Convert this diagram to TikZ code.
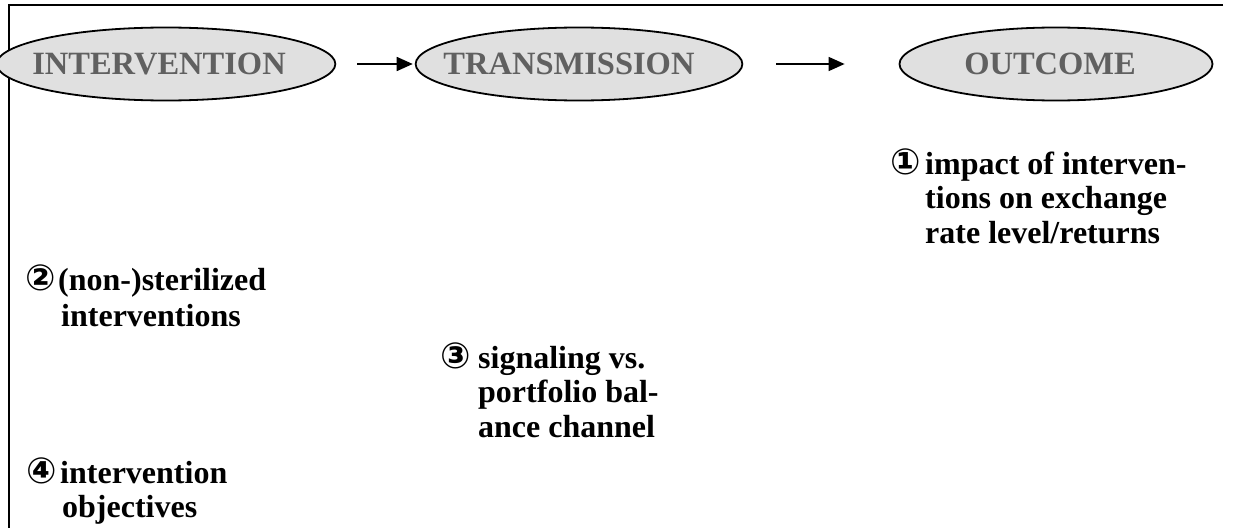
\documentclass[tikz,border=0pt]{standalone}
\usepackage{fontspec}
\setmainfont{Liberation Serif}
\newfontfamily\circfont{DejaVu Sans}
\usetikzlibrary{shapes.geometric,arrows.meta}
\definecolor{ellfill}{HTML}{E0E0E0}
\definecolor{elltext}{HTML}{606060}
\tikzset{
  phase/.style={ellipse, draw=black, line width=1.8pt, fill=ellfill, inner sep=0pt,
    minimum height=73pt, font=\fontsize{32.5}{36}\selectfont\bfseries, text=elltext},
  flow/.style={line width=1.6pt, -{Triangle[length=16pt,width=14pt]}},
  item/.style={anchor=base west, inner sep=0pt, font=\fontsize{32}{34.5}\selectfont\bfseries},
}
\newcommand{\cnum}[2]{\makebox[#1][l]{\circfont\fontsize{36}{36}\selectfont #2}}
\newcommand{\itemblock}[3]{\begin{tabular}[t]{@{}l@{}l@{}}\cnum{#1}{#2} & #3\end{tabular}}
\begin{document}
\begin{tikzpicture}[x=1pt,y=-1pt]
\useasboundingbox (0,0) rectangle (1233,527);
% frame (top and left edges)
\draw[line width=1.8pt] (1223,5) -- (9,5) -- (9,530);
% phases
\node[phase, minimum width=313pt] (int) at (166,64) {\kern-14pt INTERVENTION};
\node[phase, minimum width=320pt] (tra) at (579,64) {\kern-20pt TRANSMISSION};
\node[phase, minimum width=313pt] (out) at (1056,64) {\kern-12pt OUTCOME};
\draw[flow, shorten <=21pt, shorten >=2pt] (int) -- (tra);
\draw[flow, shorten <=33pt, shorten >=54pt] (tra) -- (out);
% items
\node[item] (i1) at (890,174) {\itemblock{35pt}{①}{impact of interven-\\ & tions on exchange\\ & rate level/returns}};
\node[item] (i2) at (25,290) {\itemblock{33pt}{②}{(non-)sterilized\\[2pt] & \kern3pt interventions}};
\node[item] (i3) at (440,368) {\itemblock{38pt}{③}{signaling vs.\\ & portfolio bal-\\ & ance channel}};
\node[item] (i4) at (26,483) {\itemblock{34pt}{④}{intervention\\ & \kern2pt objectives}};
\end{tikzpicture}
\end{document}
